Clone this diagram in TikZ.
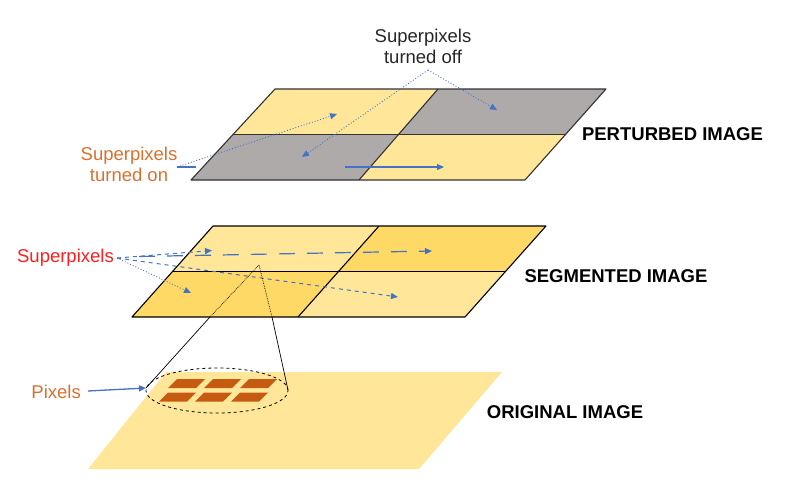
\documentclass[tikz,border=0pt]{standalone}
\usepackage{fontspec}
\setmainfont{Liberation Sans}
\usetikzlibrary{arrows.meta,shapes.geometric}
\definecolor{ylight}{HTML}{FFE699}
\definecolor{ydark}{HTML}{FFD966}
\definecolor{gplane}{HTML}{AEAAAA}
\definecolor{pixc}{HTML}{C55A11}
\definecolor{labor}{HTML}{D9702E}
\definecolor{arrb}{HTML}{4472C4}
\definecolor{labred}{HTML}{FF1F1F}
\tikzset{
  plane/.style={draw=black!80, line width=1.1pt, line join=round},
  title/.style={font=\fontsize{18.5}{21}\selectfont\bfseries, text=black, inner sep=0pt},
  lab/.style={font=\fontsize{18.5}{21}\selectfont, inner sep=0pt, align=center},
  bluedot/.style={draw=arrb, line width=0.9pt, dotted, -{Triangle[length=7pt,width=6pt]}},
  bluedash/.style={draw=arrb, line width=1pt, dash pattern=on 4pt off 4pt, -{Triangle[length=7pt,width=6pt]}},
  bluelong/.style={draw=arrb, line width=1.2pt, dash pattern=on 16pt off 12pt, -{Triangle[length=7pt,width=6pt]}},
  bluesolid/.style={draw=arrb, fill=arrb, line width=1.3pt, -{Triangle[length=7pt,width=6pt]}},
  pix/.style={fill=pixc, draw=none},
}
\begin{document}
\begin{tikzpicture}[x=1pt,y=-1pt]
\useasboundingbox (0,0) rectangle (788,483);

% ---------------- original image plane
\fill[ylight] (166,372) -- (502,372) -- (419,469) -- (88,469) -- cycle;
% pixels
\foreach \px/\py in {177/379,213/379,249/379,168/392.5,204/392.5,240/392.5}{
  \fill[pix] (\px,\py) -- ++(28,0) -- ++(-9,9) -- ++(-28,0) -- cycle;
}
\node[draw=black, dashed, line width=0.8pt, ellipse, minimum width=142pt, minimum height=45pt, inner sep=0pt] (ell) at (217,390.5) {};
\coordinate (ellL) at (146,388);
\coordinate (ellR) at (288,390);

% ---------------- segmented image plane
\fill[ylight] (213,226) -- (379,226) -- (338.5,271.5) -- (172.5,271.5) -- cycle;
\fill[ydark]  (379,226) -- (546,226) -- (505.5,271.5) -- (338.5,271.5) -- cycle;
\fill[ydark]  (172.5,271.5) -- (338.5,271.5) -- (298,317) -- (132,317) -- cycle;
\fill[ylight] (338.5,271.5) -- (505.5,271.5) -- (465,317) -- (298,317) -- cycle;
\draw[plane, draw=black] (213,226) -- (546,226) -- (465,317) -- (132,317) -- cycle;
\draw[plane, draw=black] (172.5,271.5) -- (505.5,271.5);
\draw[plane, draw=black] (379,226) -- (298,317);

% ---------------- perturbed image plane
\fill[ylight] (275,89) -- (438,89) -- (398,134.5) -- (233,134.5) -- cycle;
\fill[gplane] (438,89) -- (606,89) -- (566,134.5) -- (398,134.5) -- cycle;
\fill[gplane] (233,134.5) -- (398,134.5) -- (359,180) -- (191,180) -- cycle;
\fill[ylight] (398,134.5) -- (566,134.5) -- (525,180) -- (359,180) -- cycle;
\draw[plane] (275,89) -- (606,89) -- (525,180) -- (191,180) -- cycle;
\draw[plane] (233,134.5) -- (566,134.5);
\draw[plane] (438,89) -- (359,180);

% ---------------- titles
\node[title] (tPert) at (672.5,134.5) {PERTURBED IMAGE};
\node[title] (tSeg)  at (616,276) {SEGMENTED IMAGE};
\node[title] (tOrig) at (565,412) {ORIGINAL IMAGE};

% ---------------- labels
\node[lab, text=black!85] (lblOff) at (423,46) {Superpixels\\turned off};
\node[lab, text=labor] (lblOn) at (129,164) {Superpixels\\turned on};
\node[lab, text=labred, anchor=east] (lblSup) at (114,258) {Superpixels};
\node[lab, text=labor, anchor=east] (lblPix) at (81,392) {Pixels};

% ---------------- arrow end points
\coordinate (offS) at (428,70);
\coordinate (offA) at (497,110);
\coordinate (offB) at (302,157);
\coordinate (onS) at (177,167);
\coordinate (onM) at (196,167);
\coordinate (onA) at (337,114);
\coordinate (onH) at (345,167);
\coordinate (onHE) at (444,167);
\coordinate (supS) at (117,258);
\coordinate (supA) at (212,250.5);
\coordinate (supL) at (139,256.5);
\coordinate (supLE) at (432,251);
\coordinate (supB) at (398,297);
\coordinate (supC) at (191,293);
\coordinate (pixS) at (88,391);
\coordinate (apex) at (259,265);
\coordinate (cl) at (210,317);
\coordinate (cr) at (272,317);

% ---------------- top arrows
\draw[bluedot] (offS) -- (offA);
\draw[bluedot] (offS) -- (offB);
\draw[bluedot] (onS) -- (onA);
\draw[draw=arrb, line width=1.3pt] (onS) -- (onM);
\draw[bluesolid] (onH) -- (onHE);

% ---------------- middle arrows
\draw[bluedash] (supS) -- (supA);
\draw[bluelong] (supL) -- (supLE);
\draw[bluedash] (supS) -- (supB);
\draw[bluedot] (supS) -- (supC);

% ---------------- zoom cone
\draw[black, line width=0.7pt, densely dotted] (apex) -- (cl);
\draw[black, line width=0.7pt, densely dotted] (apex) -- (cr);
\draw[black, line width=0.7pt] (cl) -- (ellL);
\draw[black, line width=0.7pt] (cr) -- (ellR);

% ---------------- pixels arrow
\draw[bluesolid] (pixS) -- (ellL);
\end{tikzpicture}
\end{document}
